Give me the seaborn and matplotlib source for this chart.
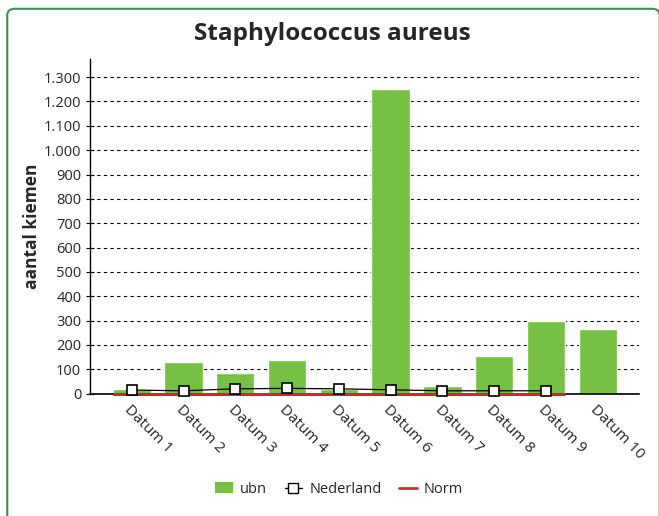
import numpy as np
import pandas as pd
import matplotlib.pyplot as plt
import seaborn as sns
from matplotlib.patches import FancyBboxPatch
from matplotlib.lines import Line2D
from matplotlib.patches import Patch

categories = ['Datum 1', 'Datum 2', 'Datum 3', 'Datum 4', 'Datum 5',
              'Datum 6', 'Datum 7', 'Datum 8', 'Datum 9', 'Datum 10']
ubn = [20, 130, 85, 140, 20, 1250, 30, 155, 300, 265]
nederland = [15, 12, 20, 22, 20, 16, 12, 12, 12]
norm = [0, 0, 0, 0, 0, 0, 0, 0, 0]
yticks = list(range(0, 1301, 100))
ytick_labels = ['0', '100', '200', '300', '400', '500', '600', '700', '800',
                '900', '1.000', '1.100', '1.200', '1.300']

sns.set_style('white')
plt.rcParams['font.family'] = ['Open Sans', 'DejaVu Sans']

df = pd.DataFrame({'datum': categories, 'ubn': ubn})

fig = plt.figure(figsize=(6.59, 5.16), dpi=100)
ax = fig.add_axes([0.137, 0.237, 0.833, 0.649])

# rounded green frame around the whole chart
frame = FancyBboxPatch((0.011, -0.05), 0.99, 1.033, transform=fig.transFigure,
                       boxstyle='round,pad=0,rounding_size=0.012',
                       fill=False, edgecolor='#3f8f55', linewidth=1.5,
                       clip_on=False)
fig.patches.append(frame)

for y in yticks:
    ax.axhline(y, color='black', linestyle=(0, (3, 3)), linewidth=0.8, zorder=0)

sns.barplot(data=df, x='datum', y='ubn', color='#76c043', width=0.74,
            saturation=1, ax=ax, zorder=2)

x_ned = np.arange(len(nederland))
ax.plot(x_ned, nederland, color='black', linewidth=0.9, marker='s',
        markersize=7, markerfacecolor='white', markeredgecolor='black',
        markeredgewidth=1.2, zorder=5, clip_on=False)
ax.hlines(norm[0], -0.37, len(norm) - 0.63, color='#c8282e', linewidth=2.2,
          zorder=4, clip_on=False)

ax.set_xlim(-0.8, 9.8)
ax.set_ylim(0, 1375)
ax.set_yticks(yticks)
ax.set_yticklabels(ytick_labels, fontsize=10.5)
ax.tick_params(axis='y', direction='inout', length=6, color='black', left=True)
ax.tick_params(axis='x', length=0, pad=6)
plt.setp(ax.get_xticklabels(), rotation=-45, ha='left', va='top',
         rotation_mode='anchor', fontsize=11)

for side in ['top', 'right']:
    ax.spines[side].set_visible(False)
ax.spines['left'].set_color('black')
ax.spines['bottom'].set_color('black')
ax.spines['left'].set_linewidth(1)
ax.spines['bottom'].set_linewidth(1.2)

ax.set_xlabel('')
ax.set_ylabel('aantal kiemen', fontsize=12.5, fontweight='bold', labelpad=2)
fig.suptitle('Staphylococcus aureus', fontsize=17.5, fontweight='bold',
             x=0.505, y=0.958)

handles = [
    Patch(facecolor='#76c043', edgecolor='none', label='ubn'),
    Line2D([0], [0], color='black', linewidth=1, marker='s', markersize=7,
           markerfacecolor='white', markeredgecolor='black', label='Nederland'),
    Line2D([0], [0], color='#d7282f', linewidth=2, label='Norm'),
]
fig.legend(handles=handles, loc='center', bbox_to_anchor=(0.515, 0.052), ncol=3,
           frameon=False, fontsize=10.5, handlelength=1.2, columnspacing=1.2,
           handletextpad=0.5)

plt.savefig('out.png', dpi=100)
